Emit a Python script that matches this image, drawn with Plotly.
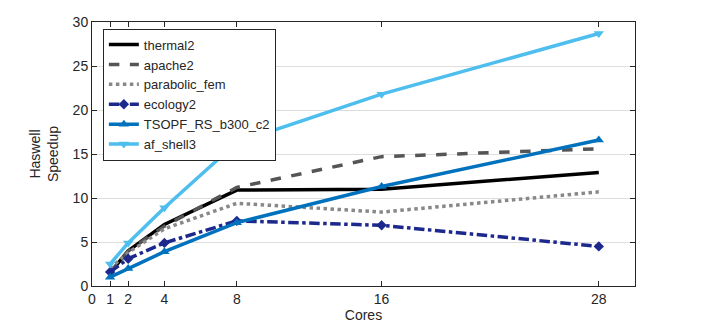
import plotly.graph_objects as go

cores = [1, 2, 4, 8, 16, 28]
thermal2 = [1.5, 4.0, 7.0, 10.9, 11.0, 12.9]
apache2 = [1.5, 4.0, 6.8, 11.2, 14.7, 15.6]
parabolic_fem = [2.0, 3.8, 6.5, 9.4, 8.4, 10.7]
ecology2 = [1.6, 3.1, 4.9, 7.4, 6.9, 4.5]
tsopf = [1.0, 2.0, 3.9, 7.2, 11.3, 16.6]
af_shell3 = [2.5, 4.9, 8.9, 16.3, 21.8, 28.7]

x_ticks = [0, 1, 2, 4, 8, 16, 28]
y_ticks = [0, 5, 10, 15, 20, 25, 30]

fig = go.Figure()
fig.add_trace(go.Scatter(x=cores, y=thermal2, name='thermal2', mode='lines',
                         line=dict(color='black', width=3.5)))
fig.add_trace(go.Scatter(x=cores, y=apache2, name='apache2', mode='lines',
                         line=dict(color='rgb(85,85,85)', width=3.5, dash='dash')))
fig.add_trace(go.Scatter(x=cores, y=parabolic_fem, name='parabolic_fem', mode='lines',
                         line=dict(color='rgb(136,136,136)', width=3.5, dash='dot')))
fig.add_trace(go.Scatter(x=cores, y=ecology2, name='ecology2', mode='lines+markers',
                         line=dict(color='rgb(28,40,140)', width=3.5, dash='dashdot'),
                         marker=dict(symbol='diamond', size=8, color='rgb(28,40,140)')))
fig.add_trace(go.Scatter(x=cores, y=tsopf, name='TSOPF_RS_b300_c2', mode='lines+markers',
                         line=dict(color='rgb(0,114,189)', width=3.5),
                         marker=dict(symbol='triangle-up', size=9, color='rgb(0,114,189)')))
fig.add_trace(go.Scatter(x=cores, y=af_shell3, name='af_shell3', mode='lines+markers',
                         line=dict(color='rgb(77,190,238)', width=3.5),
                         marker=dict(symbol='triangle-down', size=9, color='rgb(77,190,238)')))

axis_common = dict(showline=True, linecolor='rgb(38,38,38)', linewidth=1, mirror='ticks',
                   ticks='inside', ticklen=5, tickcolor='rgb(38,38,38)', automargin=False,
                   tickfont=dict(size=14, color='rgb(38,38,38)'), zeroline=False)

# page body has an 8px margin, so the figure is 8px smaller than the window
fig.update_layout(
    width=695, height=319,
    margin=dict(l=84, r=68, t=14, b=41),
    paper_bgcolor='white', plot_bgcolor='white',
    font=dict(family='Liberation Sans, Arial, sans-serif', size=13, color='rgb(38,38,38)'),
    showlegend=True,
    legend=dict(x=0.02, y=0.975, xanchor='left', yanchor='top',
                bgcolor='white', bordercolor='rgb(38,38,38)', borderwidth=1,
                font=dict(size=13), tracegroupgap=0, itemwidth=30),
    xaxis=dict(range=[0, 30], tickvals=x_ticks, showgrid=False,
               title=dict(text='Cores', standoff=2, font=dict(size=14)), **axis_common),
    yaxis=dict(range=[0, 30], tickvals=y_ticks, showgrid=True, gridcolor='rgb(222,222,222)',
               title=dict(text='Haswell<br>Speedup', standoff=10, font=dict(size=14)), **axis_common),
)

fig.write_html("out.html")
